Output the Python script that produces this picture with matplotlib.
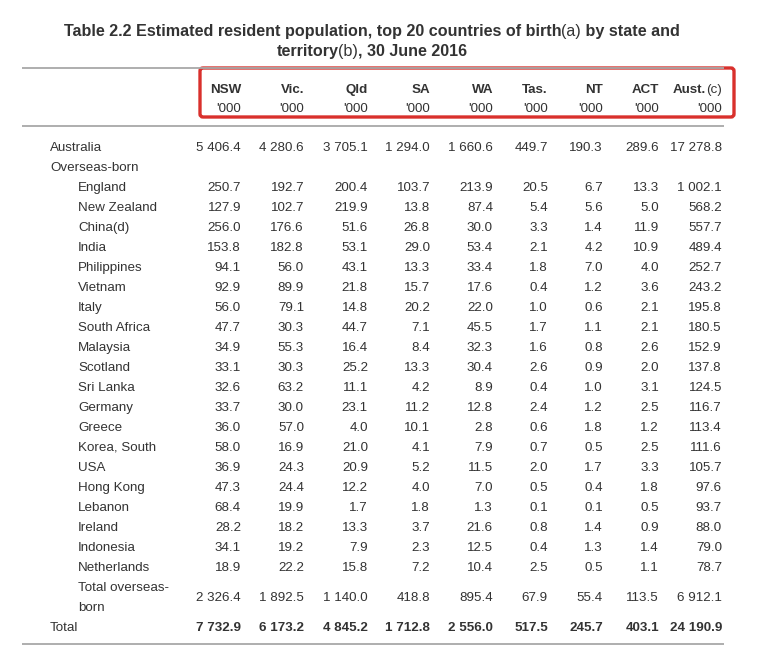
import matplotlib
matplotlib.use("Agg")
import matplotlib.pyplot as plt
from matplotlib.patches import FancyBboxPatch

plt.rcParams['font.family'] = ['Liberation Sans', 'DejaVu Sans']

# ---------------- data ----------------
title_parts_1 = [("Table 2.2 Estimated resident population, top 20 countries of birth", "bold"),
                 ("(a)", "normal"), (" by state and", "bold")]
title_parts_2 = [("territory", "bold"), ("(b)", "normal"), (", 30 June 2016", "bold")]

columns = ["NSW", "Vic.", "Qld", "SA", "WA", "Tas.", "NT", "ACT", "Aust."]
column_notes = ["", "", "", "", "", "", "", "", "(c)"]
units = "'000"

countries = ["England", "New Zealand", "China(d)", "India", "Philippines", "Vietnam",
             "Italy", "South Africa", "Malaysia", "Scotland", "Sri Lanka", "Germany",
             "Greece", "Korea, South", "USA", "Hong Kong", "Lebanon", "Ireland",
             "Indonesia", "Netherlands"]

# each list: Australia, 20 countries, Total overseas-born, Total
nsw = [5406.4, 250.7, 127.9, 256.0, 153.8, 94.1, 92.9, 56.0, 47.7, 34.9, 33.1, 32.6,
       33.7, 36.0, 58.0, 36.9, 47.3, 68.4, 28.2, 34.1, 18.9, 2326.4, 7732.9]
vic = [4280.6, 192.7, 102.7, 176.6, 182.8, 56.0, 89.9, 79.1, 30.3, 55.3, 30.3, 63.2,
       30.0, 57.0, 16.9, 24.3, 24.4, 19.9, 18.2, 19.2, 22.2, 1892.5, 6173.2]
qld = [3705.1, 200.4, 219.9, 51.6, 53.1, 43.1, 21.8, 14.8, 44.7, 16.4, 25.2, 11.1,
       23.1, 4.0, 21.0, 20.9, 12.2, 1.7, 13.3, 7.9, 15.8, 1140.0, 4845.2]
sa = [1294.0, 103.7, 13.8, 26.8, 29.0, 13.3, 15.7, 20.2, 7.1, 8.4, 13.3, 4.2,
      11.2, 10.1, 4.1, 5.2, 4.0, 1.8, 3.7, 2.3, 7.2, 418.8, 1712.8]
wa = [1660.6, 213.9, 87.4, 30.0, 53.4, 33.4, 17.6, 22.0, 45.5, 32.3, 30.4, 8.9,
      12.8, 2.8, 7.9, 11.5, 7.0, 1.3, 21.6, 12.5, 10.4, 895.4, 2556.0]
tas = [449.7, 20.5, 5.4, 3.3, 2.1, 1.8, 0.4, 1.0, 1.7, 1.6, 2.6, 0.4,
       2.4, 0.6, 0.7, 2.0, 0.5, 0.1, 0.8, 0.4, 2.5, 67.9, 517.5]
nt = [190.3, 6.7, 5.6, 1.4, 4.2, 7.0, 1.2, 0.6, 1.1, 0.8, 0.9, 1.0,
      1.2, 1.8, 0.5, 1.7, 0.4, 0.1, 1.4, 1.3, 0.5, 55.4, 245.7]
act = [289.6, 13.3, 5.0, 11.9, 10.9, 4.0, 3.6, 2.1, 2.1, 2.6, 2.0, 3.1,
       2.5, 1.2, 2.5, 3.3, 1.8, 0.5, 0.9, 1.4, 1.1, 113.5, 403.1]
aust = [17278.8, 1002.1, 568.2, 557.7, 489.4, 252.7, 243.2, 195.8, 180.5, 152.9, 137.8,
        124.5, 116.7, 113.4, 111.6, 105.7, 97.6, 93.7, 88.0, 79.0, 78.7, 6912.1, 24190.9]

# ---------------- layout ----------------
W, H = 778, 656
fig = plt.figure(figsize=(W / 100, H / 100), dpi=100)
ax = fig.add_axes([0, 0, 1, 1])
ax.set_xlim(0, W)
ax.set_ylim(H, 0)
ax.axis('off')
renderer = fig.canvas.get_renderer()

TXT = "#333333"
FS = 9.6
BL = 4.8          # offset from row centre to text baseline (px)
col_right = [241, 304, 368, 430, 493, 548, 603, 659, 722]


def fmt(v):
    return "{:,.1f}".format(v).replace(",", " ")


def text_width(s, **kw):
    t = ax.text(0, 0, s, **kw)
    w = t.get_window_extent(renderer).width
    t.remove()
    return w


def put(x, y, s, ha='left', size=FS, weight='normal'):
    ax.text(x, y + size * 0.5, s, fontsize=size, fontweight=weight, color=TXT,
            ha=ha, va='baseline')


def centered_parts(parts, xc, y, size):
    widths = [text_width(s, fontsize=size, fontweight=wt) for s, wt in parts]
    x = xc - sum(widths) / 2
    for (s, wt), w in zip(parts, widths):
        put(x, y, s, size=size, weight=wt)
        x += w


centered_parts(title_parts_1, 372, 30.5, 11.6)
centered_parts(title_parts_2, 372, 50, 11.6)

# rules
rule_c = "#a8a8a8"
for y in (68, 126, 644):
    ax.plot([22, 724], [y, y], color=rule_c, lw=1.3, solid_capstyle='butt')

# header
for name, note, xr in zip(columns, column_notes, col_right):
    x = xr
    if note:
        put(x, 88, note, ha='right')
        x -= text_width(note, fontsize=FS)
    put(x, 88, name, ha='right', weight='bold')
    put(xr, 107, units, ha='right')

# red highlight box
box = FancyBboxPatch((200, 68), 534, 49, boxstyle="round,pad=0,rounding_size=3",
                     fill=False, edgecolor="#d9302c", lw=2.4)
ax.add_patch(box)

# body
cols = [nsw, vic, qld, sa, wa, tas, nt, act, aust]
row_y = [146] + [186 + 20 * i for i in range(len(countries))] + [596.5, 626]
row_labels = ["Australia"] + countries + ["Total overseas-\nborn", "Total"]
row_x = [50] + [78] * len(countries) + [78, 50]
row_bold = [False] * (len(countries) + 2) + [True]

put(50, 166, "Overseas-born")
for i, (lab, y, x, b) in enumerate(zip(row_labels, row_y, row_x, row_bold)):
    wt = 'bold' if b else 'normal'
    if "\n" in lab:
        l1, l2 = lab.split("\n")
        put(x, y - 10, l1)
        put(x, y + 10, l2)
    else:
        put(x, y, lab)
    for col, xr in zip(cols, col_right):
        put(xr, y, fmt(col[i]), ha='right', weight=wt)

fig.savefig("out.png", dpi=100, facecolor="white")
